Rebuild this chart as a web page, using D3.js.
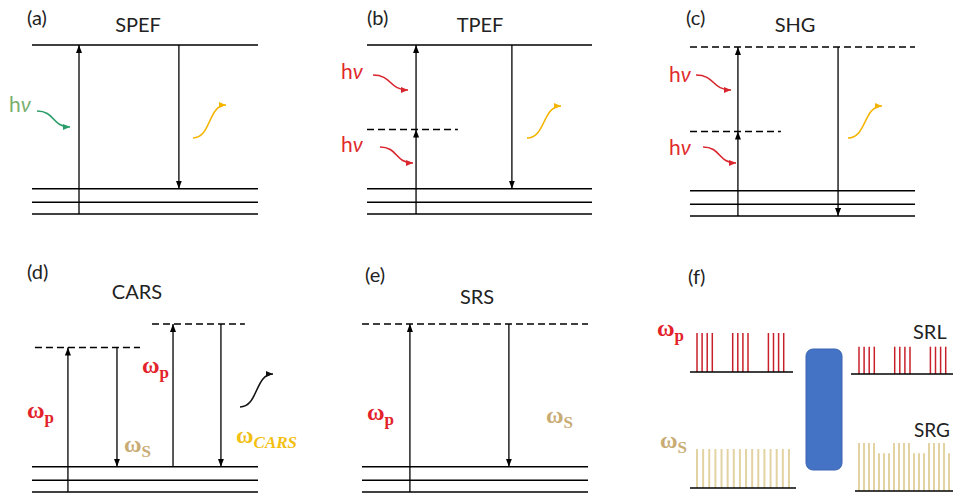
<!DOCTYPE html>
<html><head><meta charset="utf-8">
<script src="https://cdn.jsdelivr.net/npm/d3@7"></script>
<style>
html,body{margin:0;padding:0;background:#fff;}
svg{display:block;}
text{font-family:Lato,"Open Sans",sans-serif;}
</style></head>
<body>
<svg id="chart" width="953" height="495"></svg>
<script>
// ---------- data ----------
const panelIds = ["a","b","c","d","e"];
const panelLabels = ["(a)","(b)","(c)","(d)","(e)","(f)"];
const panelTitles = ["SPEF","TPEF","SHG","CARS","SRS"];
const groundLevels = [0, 7, 15];               // vibrational ground levels (a.u.)
const upperSolid = {a:100, b:100};              // real excited state
const virtualLevels = {                          // [energy, from, to] (fraction of width)
  b:[[50,0,0.404]],
  c:[[50,0,0.404],[100,0,1]],
  d:[[86,0.013,0.478],[100,0.531,0.942]],
  e:[[100,0,1]]
};
const transitions = {                            // [fromEnergy, toEnergy]
  a:[[0,100],[100,15]],
  b:[[0,50],[50,100],[100,15]],
  c:[[0,50],[50,100],[100,0]],
  d:[[0,86],[86,15],[15,100],[100,15]],
  e:[[0,100],[100,15]]
};
const transitionSlots = {
  a:[0.208,0.65], b:[0.218,0.218,0.644], c:[0.213,0.213,0.658],
  d:[0.159,0.376,0.624,0.836], e:[0.212,0.65]
};
// panel (f) pulse trains
const pumpPulseIdx = [0,1,2,3,7,8,9,10,14,15,16,17];
const pumpIn = 1.0, pumpOut = 0.7;
const stokesIn = [1,1,1,1,1,1,1,1,1,1,1,1,1,1,1,1];
const stokesOut = [1.23,1.23,1.23,1.23,0.97,0.97,0.97,1.23,1.23,1.23,1.23,0.97,0.97,0.97,1.23,1.23,1.23,1.23,0.97];

// ---------- layout ----------
const svg = d3.select("#chart");
const layout = {
  a:{x0:32,x1:258,y:[214,45]},
  b:{x0:367,x1:592,y:[214,45]},
  c:{x0:690,x1:915,y:[216,47]},
  d:{x0:32,x1:258,y:[492,324]},
  e:{x0:362,x1:588,y:[492,324]}
};
const defs = svg.append("defs");
function marker(id,color,w,h){
  defs.append("marker").attr("id",id).attr("markerUnits","userSpaceOnUse")
    .attr("viewBox",`0 0 ${w} ${h}`).attr("refX",w).attr("refY",h/2)
    .attr("markerWidth",w).attr("markerHeight",h).attr("orient","auto")
    .append("path").attr("d",`M0,0L${w},${h/2}L0,${h}Z`).attr("fill",color);
}
marker("ab","#000",8,6);
marker("ag","#2a9d6a",7,6);
marker("ar","#d9262e",7,6);
marker("ay","#f4b400",7,6);
marker("ak","#111",7,6);

panelIds.forEach((id,i)=>{
  const L = layout[id];
  const x = d3.scaleLinear().domain([0,1]).range([L.x0,L.x1]);
  const y = d3.scaleLinear().domain([0,100]).range(L.y);
  const g = svg.append("g");
  g.selectAll("line.gl").data(groundLevels).join("line")
    .attr("x1",x(0)).attr("x2",x(1)).attr("y1",d=>y(d)).attr("y2",d=>y(d))
    .attr("stroke","#000").attr("stroke-width",1.5);
  if(upperSolid[id]!==undefined){
    g.append("line").attr("x1",x(0)).attr("x2",x(1))
      .attr("y1",y(upperSolid[id])).attr("y2",y(upperSolid[id]))
      .attr("stroke","#000").attr("stroke-width",1.5);
  }
  g.selectAll("line.vl").data(virtualLevels[id]||[]).join("line")
    .attr("x1",d=>x(d[1])).attr("x2",d=>x(d[2])).attr("y1",d=>y(d[0])).attr("y2",d=>y(d[0]))
    .attr("stroke","#000").attr("stroke-width",1.3).attr("stroke-dasharray","7,4");
  g.selectAll("line.tr").data(transitions[id]).join("line")
    .attr("x1",(d,j)=>x(transitionSlots[id][j])).attr("x2",(d,j)=>x(transitionSlots[id][j]))
    .attr("y1",d=>y(d[0])).attr("y2",d=>y(d[1]))
    .attr("stroke","#000").attr("stroke-width",1.3).attr("marker-end","url(#ab)");
});

// titles and labels
const titlePos = [[138,32],[480,32],[795,32],[137,299],[477,304]];
svg.selectAll("text.title").data(panelTitles).join("text")
  .attr("x",(d,i)=>titlePos[i][0]).attr("y",(d,i)=>titlePos[i][1])
  .attr("text-anchor","middle").attr("font-size",20).attr("fill","#222").text(d=>d);
const labelPos = [[27,25],[367,25],[686,25],[27,279],[365,282],[688,284]];
svg.selectAll("text.plabel").data(panelLabels).join("text")
  .attr("x",(d,i)=>labelPos[i][0]).attr("y",(d,i)=>labelPos[i][1])
  .attr("font-size",20).attr("fill","#222").text(d=>d);

// wavy photon arrows
function wave(p0,p1){
  const dx=p1[0]-p0[0];
  return `M${p0[0]},${p0[1]}C${p0[0]+0.55*dx},${p0[1]} ${p0[0]+0.45*dx},${p1[1]} ${p1[0]},${p1[1]}`;
}
const waves = [
  [[37,111],[70,127],"#2a9d6a","ag"],
  [[373,75],[408,90],"#d9262e","ar"],[[380,147],[413,163],"#d9262e","ar"],
  [[696,75],[731,90],"#d9262e","ar"],[[703,147],[736,163],"#d9262e","ar"],
  [[193,138],[226,105],"#f4b400","ay"],[[527,138],[561,106],"#f4b400","ay"],
  [[848,138],[882,106],"#f4b400","ay"],
  [[240,407],[273,374],"#111","ak"]
];
svg.selectAll("path.wave").data(waves).join("path")
  .attr("d",d=>wave(d[0],d[1])).attr("fill","none").attr("stroke",d=>d[2])
  .attr("stroke-width",1.6).attr("marker-end",d=>`url(#${d[3]})`);

// hν labels
const hvLabels = [[9,112,"#7aaf6e"],[341,79,"#e02a2a"],[341,152,"#e02a2a"],[669,82,"#e02a2a"],[669,155,"#e02a2a"]];
hvLabels.forEach(h=>{
  const t=svg.append("text").attr("x",h[0]).attr("y",h[1]).attr("font-size",21).attr("fill",h[2]);
  t.append("tspan").text("h");
  t.append("tspan").attr("font-style","italic").text("ν");
});

// ω labels
const omegaLabels = [
  [27,418,"p","#e3222b",false],[142,373,"p","#e3222b",false],
  [124,452,"S","#c9ab74",false],[236,443,"CARS","#f2c012",true],
  [367,420,"p","#e3222b",false],[546,423,"S","#c9ab74",false],
  [657,336,"p","#e3222b",false],[660,448,"S","#c9ab74",false]
];
omegaLabels.forEach(o=>{
  const t=svg.append("text").attr("x",o[0]).attr("y",o[1]).attr("fill",o[3])
    .style("font-family","'Liberation Serif','DejaVu Serif',serif").attr("font-weight","bold").attr("font-size",24);
  t.append("tspan").text("ω");
  t.append("tspan").attr("dy",5).attr("font-size",17)
    .attr("font-style",o[4]?"italic":"normal").text(o[2]);
});

// ---------- panel (f) ----------
const amp = d3.scaleLinear().domain([0,1]).range([0,39]);
function train(x0,unit,base,lineX0,lineX1,data,color,width){
  const x = d3.scaleLinear().domain([0,1]).range([x0,x0+unit]);
  svg.selectAll(null).data(data).join("line")
    .attr("x1",d=>x(d.i)).attr("x2",d=>x(d.i))
    .attr("y1",base).attr("y2",d=>base-amp(d.v))
    .attr("stroke",color).attr("stroke-width",width);
  svg.append("line").attr("x1",lineX0).attr("x2",lineX1).attr("y1",base).attr("y2",base)
    .attr("stroke","#000").attr("stroke-width",1.5);
}
train(697,5.1,372,690,793,pumpPulseIdx.map(i=>({i,v:pumpIn})),"#c8202a",1.5);
train(859,5.1,374,851,953,pumpPulseIdx.map(i=>({i,v:pumpOut})),"#c8202a",1.5);
train(697,6.13,488,690,796,stokesIn.map((v,i)=>({i,v})),"#e3d3a2",2);
train(859,5,491,855,953,stokesOut.map((v,i)=>({i,v})),"#e3d3a2",2);

svg.append("rect").attr("x",806).attr("y",349).attr("width",36).attr("height",121)
  .attr("rx",7).attr("fill","#4472c4").attr("stroke","#3a64b0").attr("stroke-width",1);
svg.append("text").attr("x",913).attr("y",339).attr("font-size",20).attr("fill","#222").text("SRL");
svg.append("text").attr("x",914).attr("y",437).attr("font-size",19).attr("fill","#222").text("SRG");
</script>
</body></html>
